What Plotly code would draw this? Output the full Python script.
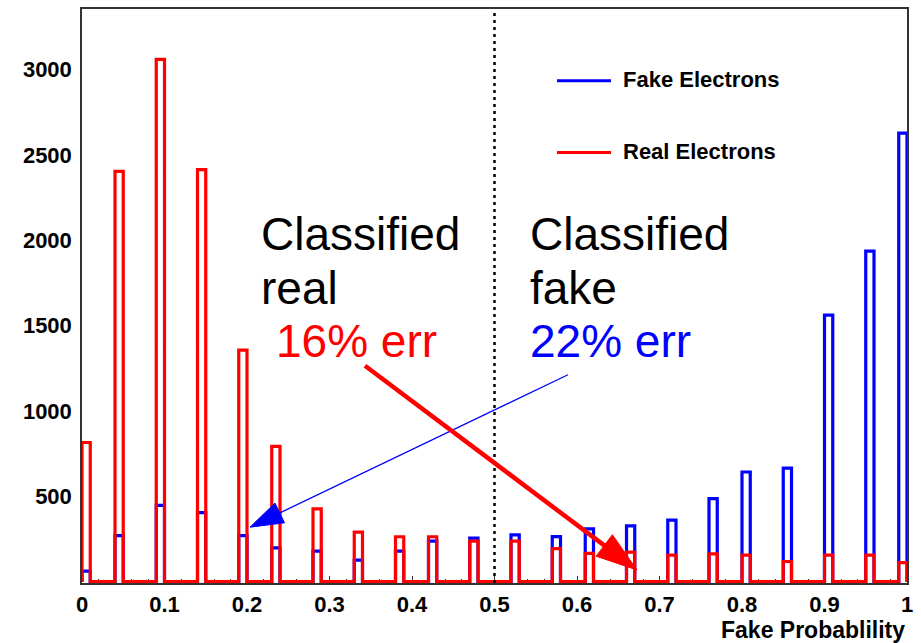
import numpy as np
import plotly.graph_objects as go

# ---------------- data ----------------
bin_width = 0.01
n_bins = 100
filled_bins = [0, 4, 9, 14, 19, 23, 28, 33, 38, 42, 47, 52, 57, 61, 66, 71, 76, 80, 85, 90, 95, 99]
fake_counts = [62, 270, 447, 404, 270, 198, 179, 126, 179, 237, 255, 274, 264, 309, 327,
               360, 486, 642, 665, 1561, 1936, 2627]
real_counts = [815, 2403, 3059, 2413, 1356, 792, 426, 290, 263, 263, 237, 237, 193, 165, 173,
               155, 163, 155, 118, 155, 155, 111]
x_tick_vals = [0, 0.1, 0.2, 0.3, 0.4, 0.5, 0.6, 0.7, 0.8, 0.9, 1.0]
x_tick_text = ["0", "0.1", "0.2", "0.3", "0.4", "0.5", "0.6", "0.7", "0.8", "0.9", "1"]
y_tick_vals = [500, 1000, 1500, 2000, 2500, 3000]
cut_value = 0.5

# ---------------- geometry ----------------
W, H = 921, 643
L, R, T, B = 82, 14, 7, 60
PW, PH = W - L - R, H - T - B
FONT = "Liberation Sans, Arial, Helvetica, sans-serif"


def px(x):
    return (x - L) / PW


def py(y):
    return (H - B - y) / PH


def step_xy(counts):
    content = np.zeros(n_bins)
    content[filled_bins] = counts
    edges = np.arange(n_bins + 1) * bin_width
    xs = [0.0] + list(edges[:-1]) + [1.0, 1.0]
    ys = [0.0] + list(content) + [content[-1], 0.0]
    return xs, ys


fig = go.Figure()
for counts, color, name in [(fake_counts, "#0000ff", "Fake Electrons"),
                            (real_counts, "#ff0000", "Real Electrons")]:
    xs, ys = step_xy(counts)
    fig.add_trace(go.Scatter(x=xs, y=ys, mode="lines", line=dict(color=color, width=3.2, shape="hv"),
                             name=name, showlegend=False, hoverinfo="skip"))

shapes = []
annotations = []

# dotted cut line
shapes.append(dict(type="line", xref="x", yref="paper", x0=cut_value, x1=cut_value, y0=0, y1=1,
                   line=dict(color="black", width=2.5, dash="3px,4px"), layer="above"))


def arrow(tail, tip, head_len, half_w, width, color):
    tx, ty = tail
    hx, hy = tip
    d = np.hypot(hx - tx, hy - ty)
    ux, uy = (hx - tx) / d, (hy - ty) / d
    bx, by = hx - ux * head_len, hy - uy * head_len
    nx, ny = -uy, ux
    shapes.append(dict(type="line", xref="paper", yref="paper", x0=px(tx), y0=py(ty),
                       x1=px(bx + ux * 2), y1=py(by + uy * 2),
                       line=dict(color=color, width=width), layer="above"))
    p1 = (bx + nx * half_w, by + ny * half_w)
    p2 = (bx - nx * half_w, by - ny * half_w)
    path = "M {} {} L {} {} L {} {} Z".format(px(hx), py(hy), px(p1[0]), py(p1[1]), px(p2[0]), py(p2[1]))
    shapes.append(dict(type="path", xref="paper", yref="paper", path=path,
                       fillcolor=color, line=dict(color=color, width=1), layer="above"))


arrow((568, 374), (250, 527), 33, 11, 1.3, "#0000ff")
arrow((365, 365), (637, 570), 41, 13.5, 4.5, "#ff0000")

# legend
for yy, color, label in [(79, "#0000ff", "Fake Electrons"), (151, "#ff0000", "Real Electrons")]:
    shapes.append(dict(type="line", xref="paper", yref="paper", x0=px(557), x1=px(611), y0=py(yy), y1=py(yy),
                       line=dict(color=color, width=3)))
    annotations.append(dict(xref="paper", yref="paper", x=px(621), y=py(yy - 1), xanchor="left", yanchor="middle",
                            text=label, showarrow=False,
                            font=dict(family=FONT, size=22, color="black", weight="bold")))

# big labels
big = [("Classified", 259, 233, "black"), ("real", 259, 287, "black"), ("16% err", 274, 340, "#ff0000"),
       ("Classified", 528, 233, "black"), ("fake", 528, 287, "black"), ("22% err", 528, 340, "#0000ff")]
for txt, x0, y0, c in big:
    annotations.append(dict(xref="paper", yref="paper", x=px(x0), y=py(y0), xanchor="left", yanchor="middle",
                            text=txt, showarrow=False, font=dict(family=FONT, size=46, color=c)))

# axis title
annotations.append(dict(xref="paper", yref="paper", x=1.0, y=py(630), xanchor="right", yanchor="middle",
                        text="Fake Probablility", showarrow=False,
                        font=dict(family=FONT, size=23, color="black", weight="bold")))

fig.update_layout(
    width=W, height=H, margin=dict(l=L, r=R, t=T, b=B, pad=0),
    plot_bgcolor="white", paper_bgcolor="white", showlegend=False,
    shapes=shapes, annotations=annotations,
    xaxis=dict(range=[0, 1], tickvals=x_tick_vals, ticktext=x_tick_text, ticks="inside", ticklen=7,
               tickwidth=1, tickcolor="#333", minor=dict(ticks="inside", ticklen=4, dtick=0.02, tick0=0,
                                                         tickcolor="#333", tickwidth=1),
               showgrid=False, zeroline=False, showline=True, mirror=True, linecolor="#333", linewidth=1.5,
               tickfont=dict(family=FONT, size=22, color="black", weight="bold"), layer="below traces",
               ticklabelstandoff=1),
    yaxis=dict(range=[-8, 3354], tickvals=y_tick_vals, ticks="", showgrid=False, zeroline=False,
               showline=True, mirror=True, linecolor="#333", linewidth=1.5,
               tickfont=dict(family=FONT, size=22, color="black", weight="bold"), layer="below traces",
               ticklabelstandoff=4),
)

fig.write_html("out.html")
